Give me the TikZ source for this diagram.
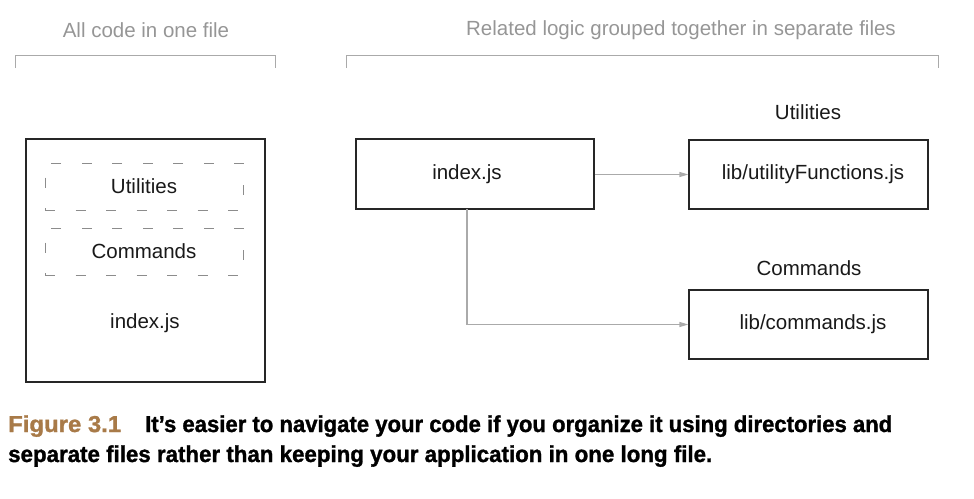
\documentclass[tikz,border=0pt]{standalone}
\usepackage{fontspec}
\usepackage{graphicx}
\setmainfont{Liberation Sans}
\newfontfamily\capfont{Liberation Sans}[BoldFeatures={FakeBold=1.3}]
\usetikzlibrary{arrows.meta}
\definecolor{headgrey}{RGB}{150,150,150}
\definecolor{linegrey}{RGB}{170,170,170}
\definecolor{dashgrey}{RGB}{140,140,140}
\definecolor{figbrown}{RGB}{168,122,72}
\begin{document}
\begin{tikzpicture}[x=1pt,y=-1pt,
  every node/.style={font=\fontsize{20.5}{24}\selectfont, text=black!90},
  heading/.style={text=headgrey},
  bracket/.style={draw=linegrey, line width=1pt},
  filebox/.style={draw=black!85, line width=1.2pt, rectangle, inner sep=0pt},
  dashbox/.style={draw=dashgrey, line width=0.8pt, dash pattern=on 10pt off 20.5pt, rectangle, inner sep=0pt},
  conn/.style={draw=linegrey, line width=1.2pt, -{Triangle[length=9pt,width=5pt]}},
  captxt/.style={font=\capfont\fontsize{23}{28}\selectfont\bfseries, text=black, inner sep=0pt, anchor=base west}]
\useasboundingbox (0,0) rectangle (974,498);
% headings and brackets
\node[heading] (h1) at (146,30) {All code in one file};
\node[heading] (h2) at (681,30) {Related logic grouped together in separate files};
\draw[bracket] (15,68) -- (15,55) -- (275,55) -- (275,68);
\draw[bracket] (346,68) -- (346,55) -- (938,55) -- (938,68);
% left: everything in one file
\node[filebox, minimum width=239pt, minimum height=243pt] (big) at (145.5,260.5) {};
\node[dashbox, minimum width=198pt, minimum height=47pt] (dutil) at (144,186.5) {Utilities};
\node[dashbox, minimum width=198pt, minimum height=47pt] (dcmd) at (144,251.5) {Commands};
\node (bigidx) at (145,323) {index.js};
% right: separate files
\node[filebox, minimum width=238pt, minimum height=70pt,
      label={[xshift=-8pt]center:index.js}] (idx) at (475,174) {};
\node[filebox, minimum width=239pt, minimum height=69pt,
      label={[xshift=4.5pt]center:lib/utilityFunctions.js}] (uf) at (808.5,174.5) {};
\node[filebox, minimum width=239pt, minimum height=69pt,
      label={[xshift=4.5pt]center:lib/commands.js}] (cm) at (808.5,324.5) {};
\node (lutil) at (808,112) {Utilities};
\node (lcmd) at (809,268) {Commands};
\coordinate (ex) at (467,209);
\draw[conn] (idx.east |- uf.west) -- (uf.west);
\draw[conn] (ex) |- (cm.west);
% caption
\node[captxt, text=figbrown] (fig) at (8,432) {\resizebox{113pt}{\height}{Figure 3.1}};
\node[captxt] (cap1) at (145,432) {\resizebox{747pt}{\height}{It’s easier to navigate your code if you organize it using directories and}};
\node[captxt] (cap2) at (8,462) {\resizebox{704pt}{\height}{separate files rather than keeping your application in one long file.}};
\end{tikzpicture}
\end{document}
